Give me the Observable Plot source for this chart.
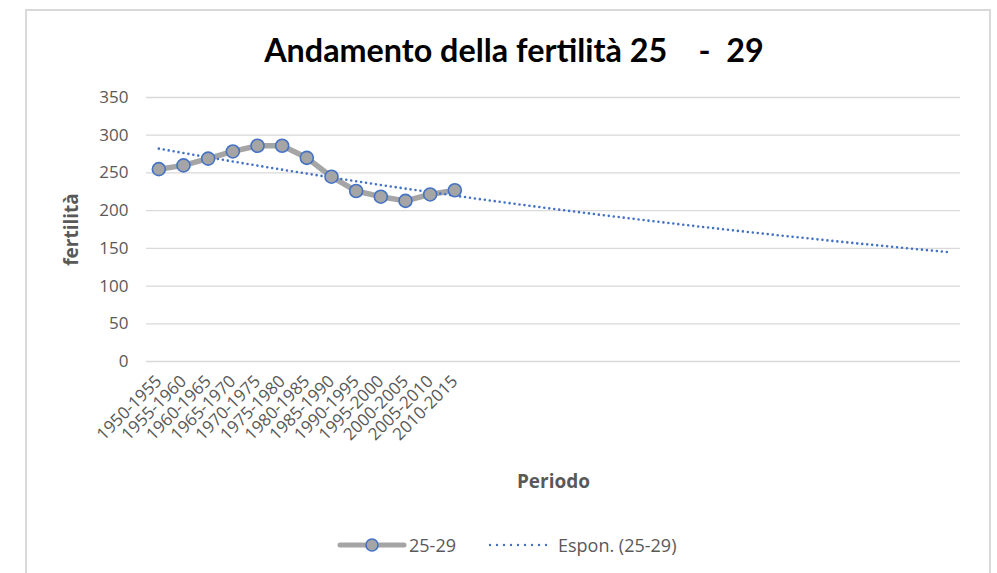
<!DOCTYPE html>
<html>
<head>
<meta charset="utf-8">
<script src="https://cdn.jsdelivr.net/npm/d3@7"></script>
<script src="https://cdn.jsdelivr.net/npm/@observablehq/plot@0.6"></script>
<style>
  html, body { margin: 0; padding: 0; background: #fff; }
  body { width: 997px; height: 573px; position: relative; overflow: hidden; font-family: "Open Sans", sans-serif; }
  #frame { position: absolute; left: 25px; top: 9px; width: 966px; height: 600px; border: 2px solid #d9d9d9; box-sizing: border-box; }
  #title { position: absolute; left: 0; width: 1028px; top: 30px; line-height: 40px; text-align: center; font-family: Lato, sans-serif; font-weight: bold; font-size: 32.3px; color: #000; white-space: pre; }
  #chart { position: absolute; left: 0; top: 0; }
  #legend { position: absolute; top: 533px; left: 0; width: 997px; height: 24px; font-size: 18px; line-height: 24px; color: #595959; }
  #legend .it { position: absolute; top: 0; white-space: pre; }
  g[aria-label="y-axis label"] text { font-weight: bold; font-size: 19px; }
  g[aria-label="x-axis label"] text { font-weight: bold; font-size: 19px; }
</style>
</head>
<body>
<div id="frame"></div>
<div id="chart"></div>
<div id="title">Andamento della fertilità 25    -  29</div>
<div id="legend"></div>
<script>
// Data
const periods = ["1950-1955","1955-1960","1960-1965","1965-1970","1970-1975","1975-1980","1980-1985","1985-1990","1990-1995","1995-2000","2000-2005","2005-2010","2010-2015"];
const fertility = [255, 260, 269, 278.5, 286, 286, 270, 245, 226, 218.5, 213, 221.5, 227];
const forecastPeriods = 20; // Excel trendline forward forecast (periods)
const yTicks = [0, 50, 100, 150, 200, 250, 300, 350];

const n = periods.length;
const total = n + forecastPeriods;
const obs = fertility.map((v, i) => ({i, v}));

// Exponential trendline (least squares on ln y, as Excel does)
const xs = obs.map(d => d.i), ls = obs.map(d => Math.log(d.v));
const mx = d3.mean(xs), ml = d3.mean(ls);
const b = d3.sum(xs.map((x, k) => (x - mx) * (ls[k] - ml))) / d3.sum(xs.map(x => (x - mx) ** 2));
const a = ml - b * mx;
const trend = d3.range(total).map(i => ({i, v: Math.exp(a + b * i)}));

const blue = "#4472c4", gray = "#a5a5a5", txt = "#595959";
const W = 997, H = 573, mL = 146, mR = 37;

const chart = Plot.plot({
  width: W,
  height: H,
  marginLeft: mL,
  marginRight: mR,
  marginTop: 97,
  marginBottom: 212,
  style: { fontFamily: "'Open Sans', sans-serif", fontSize: "17px", color: txt, background: "transparent" },
  x: { type: "point", domain: d3.range(total), padding: 0.5, round: false },
  y: { domain: [0, 350] },
  marks: [
    Plot.gridY(yTicks, { stroke: "#d9d9d9", strokeOpacity: 1, strokeWidth: 1.3 }),
    Plot.axisY(yTicks, { tickSize: 0, tickPadding: 18, fontSize: 17, label: "fertilità", labelAnchor: "center", labelArrow: "none", labelOffset: 82 }),
    Plot.axisX(d3.range(n), { tickSize: 0, tickPadding: 17, tickRotate: -45, fontSize: 17, tickFormat: i => periods[i], label: "Periodo", labelAnchor: "center", labelArrow: "none", labelOffset: 126 }),
    Plot.lineY(obs, { x: "i", y: "v", stroke: gray, strokeWidth: 5.5 }),
    Plot.lineY(trend, { x: "i", y: "v", stroke: blue, strokeWidth: 2.6, strokeDasharray: "0,5", strokeLinecap: "round" }),
    Plot.dot(obs, { x: "i", y: "v", r: 6.5, fill: gray, stroke: blue, strokeWidth: 1.6 })
  ]
});
document.getElementById("chart").appendChild(chart);

// Legend
const legend = document.getElementById("legend");
legend.innerHTML = `
  <svg class="it" style="left:337px;top:1px" width="70" height="22">
    <line x1="3" y1="11" x2="67" y2="11" stroke="${gray}" stroke-width="5" stroke-linecap="round"/>
    <circle cx="35" cy="11" r="6" fill="${gray}" stroke="${blue}" stroke-width="1.6"/>
  </svg>
  <span class="it" style="left:409px">25-29</span>
  <svg class="it" style="left:487px;top:1px" width="64" height="22">
    <line x1="3" y1="11" x2="60" y2="11" stroke="${blue}" stroke-width="2.4" stroke-dasharray="0,7" stroke-linecap="round"/>
  </svg>
  <span class="it" style="left:558px">Espon. (25-29)</span>`;
</script>
</body>
</html>
